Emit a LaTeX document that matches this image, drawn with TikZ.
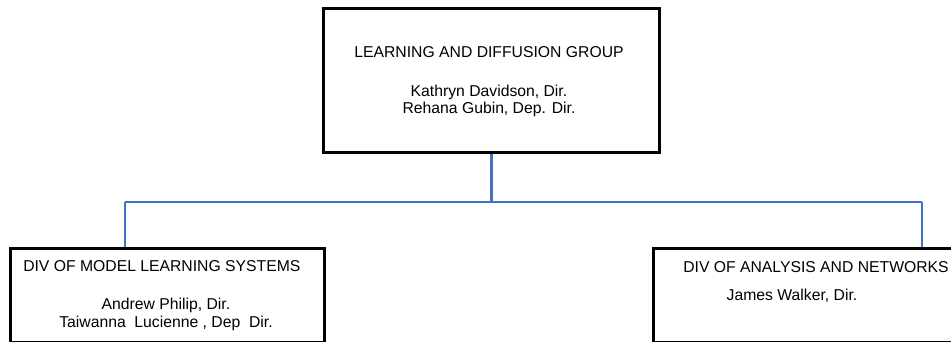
\documentclass[tikz,border=0pt]{standalone}
\usepackage{fontspec}
\setmainfont{Liberation Sans}
\usepackage{tikz}
\usetikzlibrary{positioning}
\definecolor{linkblue}{HTML}{4472C4}

\tikzset{
  box/.style={draw=black, line width=2.2pt, rectangle, anchor=north west, inner sep=0pt},
  link/.style={draw=linkblue, line width=2.2pt},
  label/.style={font=\fontsize{11.8pt}{12pt}\selectfont, inner sep=0pt}
}

\begin{document}
\begin{tikzpicture}[x=0.75pt, y=-0.75pt]
  \useasboundingbox (0,0) rectangle (951,342);
  \clip (0,0) rectangle (951,342);
  % boxes: north west corner, size in px
  \node[box, minimum width=336*0.75pt, minimum height=144*0.75pt] (group) at (322,7) {};
  \node[box, minimum width=314*0.75pt, minimum height=94*0.75pt] (divmls) at (9,247) {};
  \node[box, minimum width=320*0.75pt, minimum height=94*0.75pt] (divan) at (652,247) {};

  % texts
  \node[label, anchor=base] (groupname) at (489,58) {LEARNING AND DIFFUSION GROUP};
  \node[label, anchor=base] (groupdir) at (489,97) {Kathryn Davidson, Dir.};
  \node[label, anchor=base] (groupdep) at (489,114) {Rehana Gubin, Dep. Dir.};
  \node[label, anchor=base west] (mlsname) at (23,272) {DIV OF MODEL LEARNING SYSTEMS};
  \node[label, anchor=base] (mlsdir) at (166,310) {Andrew Philip, Dir.};
  \node[label, anchor=base] (mlsdep) at (166,328) {Taiwanna\ \ Lucienne , Dep\ \ Dir.};
  \node[label, anchor=base west] (anname) at (683,273) {DIV OF ANALYSIS AND NETWORKS};
  \node[label, anchor=base] (andir) at (792,301) {James Walker, Dir.};

  % connectors
  \coordinate (busL) at (125,202);
  \coordinate (busR) at (922,202);
  \draw[link] (group.south) -- (group.south |- busL);
  \draw[link] (busL) -- (busR);
  \draw[link] (busL) -- (busL |- divmls.north);
  \draw[link] (busR) -- (busR |- divan.north);
\end{tikzpicture}
\end{document}
